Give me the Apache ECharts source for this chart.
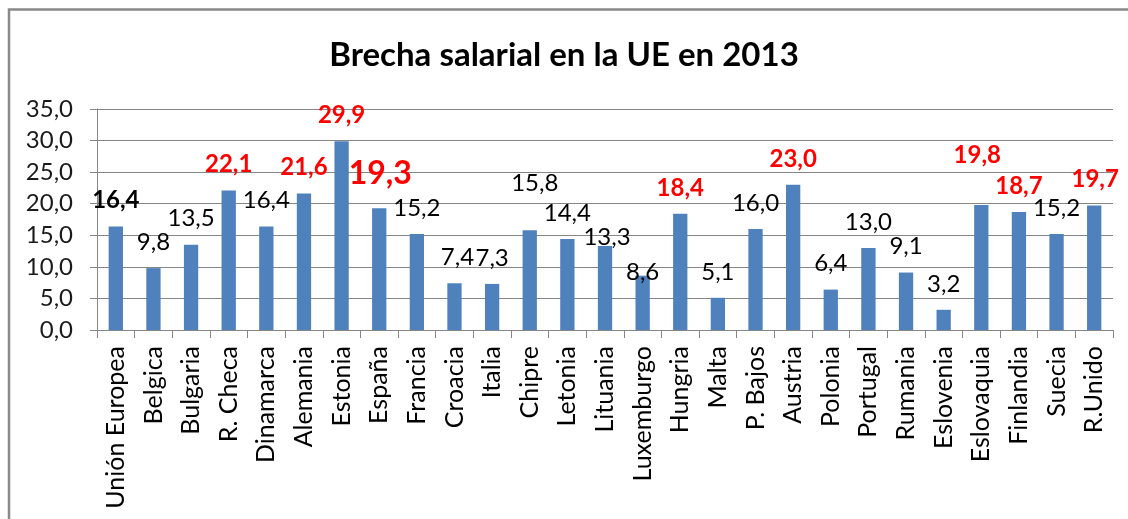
<!DOCTYPE html>
<html>
<head>
<meta charset="utf-8">
<script src="https://cdn.jsdelivr.net/npm/echarts@6/dist/echarts.min.js"></script>
<style>
  html, body { margin: 0; padding: 0; background: #fff; }
  #chart { width: 1128px; height: 519px; }
</style>
</head>
<body>
<div id="chart"></div>
<script>
const title = 'Brecha salarial en la UE en 2013';
const categories = ['Unión Europea','Belgica','Bulgaria','R. Checa','Dinamarca','Alemania','Estonia','España','Francia','Croacia','Italia','Chipre','Letonia','Lituania','Luxemburgo','Hungria','Malta','P. Bajos','Austria','Polonia','Portugal','Rumania','Eslovenia','Eslovaquia','Finlandia','Suecia','R.Unido'];
const values = [16.4, 9.8, 13.5, 22.1, 16.4, 21.6, 29.9, 19.3, 15.2, 7.4, 7.3, 15.8, 14.4, 13.3, 8.6, 18.4, 5.1, 16.0, 23.0, 6.4, 13.0, 9.1, 3.2, 19.8, 18.7, 15.2, 19.7];
const yTicks = { min: 0, max: 35, interval: 5 };

// label styling (styles only, kept apart from data)
const RED = '#FF0000';
const labelStyles = {
  'Unión Europea': { fontWeight: 'bold' },
  'R. Checa': { color: RED, fontWeight: 'bold' },
  'Alemania': { color: RED, fontWeight: 'bold' },
  'Estonia': { color: RED, fontWeight: 'bold' },
  'España': { color: RED, fontWeight: 'bold', fontSize: 32, offset: [1, -4] },
  'Croacia': { offset: [3, 0] },
  'Chipre': { offset: [5, -21] },
  'Lituania': { offset: [2, 17] },
  'Luxemburgo': { offset: [0, 23] },
  'Hungria': { color: RED, fontWeight: 'bold' },
  'Austria': { color: RED, fontWeight: 'bold' },
  'Eslovaquia': { color: RED, fontWeight: 'bold', offset: [-4, -24] },
  'Finlandia': { color: RED, fontWeight: 'bold' },
  'R.Unido': { color: RED, fontWeight: 'bold', offset: [1, 0] }
};

const fmt = v => v.toFixed(1).replace('.', ',');
const FONT = 'Lato';

const seriesData = values.map((v, i) => {
  const s = labelStyles[categories[i]];
  return s ? { value: v, label: s } : v;
});

const chart = echarts.init(document.getElementById('chart'), null, { renderer: 'canvas' });
chart.setOption({
  animation: false,
  backgroundColor: '#fff',
  title: {
    text: title,
    left: 'center',
    top: 34,
    textStyle: { fontFamily: FONT, fontSize: 33, fontWeight: 'bold', color: '#000' }
  },
  graphic: [{
    type: 'rect',
    shape: { x: 9, y: 9.5, width: 1400, height: 800 },
    style: { fill: 'none', stroke: '#898989', lineWidth: 2.5 },
    silent: true
  }],
  grid: { left: 97, right: 15, top: 109, bottom: 189, containLabel: false },
  xAxis: {
    type: 'category',
    data: categories,
    axisLine: { lineStyle: { color: '#868686', width: 1 } },
    axisTick: { show: true, interval: 0, length: 8, lineStyle: { color: '#868686' } },
    axisLabel: {
      interval: 0, rotate: 90, margin: 16,
      fontFamily: FONT, fontSize: 25, color: '#000'
    }
  },
  yAxis: {
    type: 'value',
    min: yTicks.min, max: yTicks.max, interval: yTicks.interval,
    axisLine: { show: true, lineStyle: { color: '#868686', width: 1 } },
    axisTick: { show: true, length: 7, lineStyle: { color: '#868686' } },
    splitLine: { show: true, lineStyle: { color: '#868686', width: 1 } },
    axisLabel: {
      margin: 24, fontFamily: FONT, fontSize: 24, color: '#1a1a1a',
      formatter: v => fmt(v)
    }
  },
  series: [{
    type: 'bar',
    data: seriesData,
    barWidth: '38%',
    itemStyle: { color: '#4F81BD' },
    label: {
      show: true, position: 'top', distance: 14,
      fontFamily: FONT, fontSize: 24, color: '#000',
      formatter: p => fmt(p.value)
    }
  }]
});
</script>
</body>
</html>
